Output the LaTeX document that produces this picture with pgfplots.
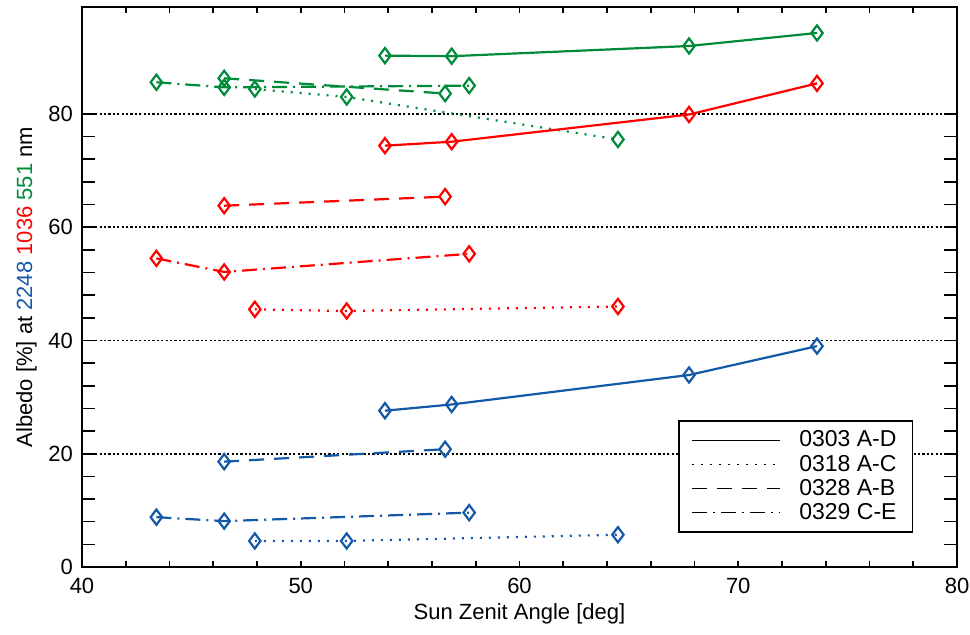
\documentclass[border=0pt]{standalone}
\usepackage{pgfplots}
\pgfplotsset{compat=1.18}
\usepackage{fontspec}
\setmainfont{Liberation Sans}
\definecolor{cgreen}{RGB}{0,139,58}
\definecolor{cred}{RGB}{255,0,0}
\definecolor{cblue}{RGB}{20,88,168}
\begin{document}
\begin{tikzpicture}
\begin{axis}[
  scale only axis,
  width=437.5pt, height=279.75pt,
  xmin=40, xmax=80, ymin=0, ymax=98.8,
  xtick={40,50,...,80}, minor x tick num=4,
  ytick={0,20,...,80}, minor y tick num=4,
  tick align=inside,
  xtick pos=both, ytick pos=both,
  x tick style={black, line width=0.8pt},
  y tick style={black, line width=0.8pt},
  xtick style={/pgfplots/major tick length=3pt},
  minor x tick style={/pgfplots/minor tick length=3pt},
  ytick style={/pgfplots/major tick length=6.5pt},
  minor y tick style={/pgfplots/minor tick length=6.5pt},
  axis line style={line width=1pt},
  /pgf/number format/assume math mode=true,
  ticklabel style={font=\fontsize{11}{13}\selectfont},
  xticklabel style={yshift=-2pt},
  yticklabel style={xshift=-1pt},
  label style={font=\fontsize{11}{13}\selectfont},
  xlabel={Sun Zenit Angle [deg]},
  ylabel={Albedo [\%] at \textcolor{cblue}{2248} \textcolor{cred}{1036} \textcolor{cgreen}{551} nm},
  xlabel style={yshift=2pt},
  ylabel style={yshift=-1pt},
  extra y ticks={20,40,60,80},
  extra y tick labels={},
  extra y tick style={grid=major, major grid style={black, line width=0.9pt, dash pattern=on 1.1pt off 1.1pt}, major tick length=0pt},
  every axis plot/.append style={line width=1.1pt, mark=diamond, mark size=3.8pt, mark options={solid, line width=1.1pt, fill=white}},
  legend style={at={(rel axis cs:0.95,0.061)}, anchor=south east, draw=black, line width=0.7pt,
    font=\fontsize{11.5}{13}\selectfont, row sep=-1.5pt, inner xsep=6pt, inner ysep=3pt},
  legend cell align=left,
  legend image code/.code={\draw[#1, line width=0.8pt] (0.25cm,0cm) -- (1.8cm,0cm); \path (2.05cm,0cm);},
]
% green 551
\addplot[cgreen, solid, forget plot] coordinates {(53.85,90.3) (56.9,90.2) (67.75,92.0) (73.6,94.3)};
\addplot[cgreen, dash pattern=on 1pt off 3.5pt, forget plot] coordinates {(47.9,84.4) (52.1,83.0) (64.5,75.5)};
\addplot[cgreen, dash pattern=on 7.5pt off 5pt, forget plot] coordinates {(46.5,86.3) (56.6,83.6)};
\addplot[cgreen, dash pattern=on 7.5pt off 3pt on 1pt off 3pt, forget plot] coordinates {(43.4,85.6) (46.5,84.7) (57.7,85.0)};
% red 1036
\addplot[cred, solid, forget plot] coordinates {(53.85,74.4) (56.9,75.1) (67.75,79.9) (73.6,85.4)};
\addplot[cred, dash pattern=on 1pt off 3.5pt, forget plot] coordinates {(47.9,45.5) (52.1,45.2) (64.5,46.0)};
\addplot[cred, dash pattern=on 7.5pt off 5pt, forget plot] coordinates {(46.5,63.8) (56.6,65.4)};
\addplot[cred, dash pattern=on 7.5pt off 3pt on 1pt off 3pt, forget plot] coordinates {(43.4,54.5) (46.5,52.1) (57.7,55.3)};
% blue 2248
\addplot[cblue, solid, forget plot] coordinates {(53.85,27.6) (56.9,28.7) (67.75,33.9) (73.6,39.0)};
\addplot[cblue, dash pattern=on 1pt off 3.5pt, forget plot] coordinates {(47.9,4.6) (52.1,4.6) (64.5,5.7)};
\addplot[cblue, dash pattern=on 7.5pt off 5pt, forget plot] coordinates {(46.5,18.6) (56.6,20.8)};
\addplot[cblue, dash pattern=on 7.5pt off 3pt on 1pt off 3pt, forget plot] coordinates {(43.4,8.8) (46.5,8.1) (57.7,9.6)};
% legend
\addlegendimage{black, solid}
\addlegendentry{0303 A-D}
\addlegendimage{black, dash pattern=on 1pt off 3.5pt}
\addlegendentry{0318 A-C}
\addlegendimage{black, dash pattern=on 7.5pt off 5pt}
\addlegendentry{0328 A-B}
\addlegendimage{black, dash pattern=on 7.5pt off 3pt on 1pt off 3pt}
\addlegendentry{0329 C-E}
\coordinate (sw) at (rel axis cs:0,0);
\coordinate (ne) at (rel axis cs:1,1);
\end{axis}
\pgfresetboundingbox
\useasboundingbox ([shift={(-41pt,-34pt)}]sw) rectangle ([shift={(6.5pt,3.75pt)}]ne);
\end{tikzpicture}
\end{document}
